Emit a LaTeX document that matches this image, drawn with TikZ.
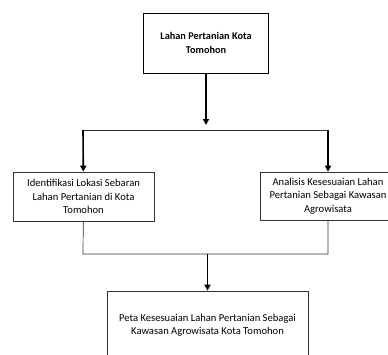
\documentclass[tikz,border=0pt]{standalone}
\usepackage{fontspec}
\setmainfont{Carlito}
\definecolor{ln}{RGB}{50, 50, 50}
\usetikzlibrary{positioning}
\usetikzlibrary{arrows.meta}

\begin{document}
\begin{tikzpicture}
			[x=1pt,y=-1pt,every node/.style={inner sep=0pt, align=center, font=\fontsize{10.6}{13.5}\selectfont}]
			\useasboundingbox (0,0) rectangle (388,354);
			\node (lahan) [rectangle, minimum width=125pt, minimum height=60pt, line width=0.8pt, draw=black, font=\fontsize{10.3}{14}\selectfont\bfseries] at (206, 43)  {Lahan Pertanian Kota\\Tomohon};
			\node (ident) [rectangle, minimum width=141pt, minimum height=49pt, line width=0.7pt, draw=ln] at (83.5, 196.5)  {Identifikasi Lokasi Sebaran\\Lahan Pertanian di Kota\\Tomohon};
			\node (analisis) [rectangle, minimum width=136pt, minimum height=48pt, line width=0.7pt, draw=ln] at (328, 196)  {Analisis Kesesuaian Lahan\\Pertanian Sebagai Kawasan\\Agrowisata};
			\node (peta) [rectangle, minimum width=201pt, minimum height=68pt, line width=0.7pt, draw=ln] at (207.5, 325)  {Peta Kesesuaian Lahan Pertanian Sebagai\\Kawasan Agrowisata Kota Tomohon};
			\coordinate (tip) at (206, 125);
			\coordinate (splitL) at (83, 130);
			\coordinate (splitR) at (328, 130);
			\coordinate (joinL) at (83, 254);
			\coordinate (joinR) at (328, 254);
			\coordinate (join) at (207.5, 254);
			\draw [line width=1.6pt, -{Triangle[length=6pt,width=6pt]}] (lahan) to (tip);
			\draw [line width=0.7pt, color=ln] (splitL) to (splitR);
			\draw [line width=1.6pt, -{Triangle[length=6pt,width=6pt]}] (splitL) to (ident);
			\draw [line width=1.6pt, -{Triangle[length=6pt,width=6pt]}] (splitR) to (analisis);
			\draw [line width=0.7pt, color=ln] (ident) to (joinL) to (joinR) to (analisis);
			\draw [line width=1.6pt, -{Triangle[length=6pt,width=6pt]}] (join) to (peta);
	\end{tikzpicture}
\end{document}
